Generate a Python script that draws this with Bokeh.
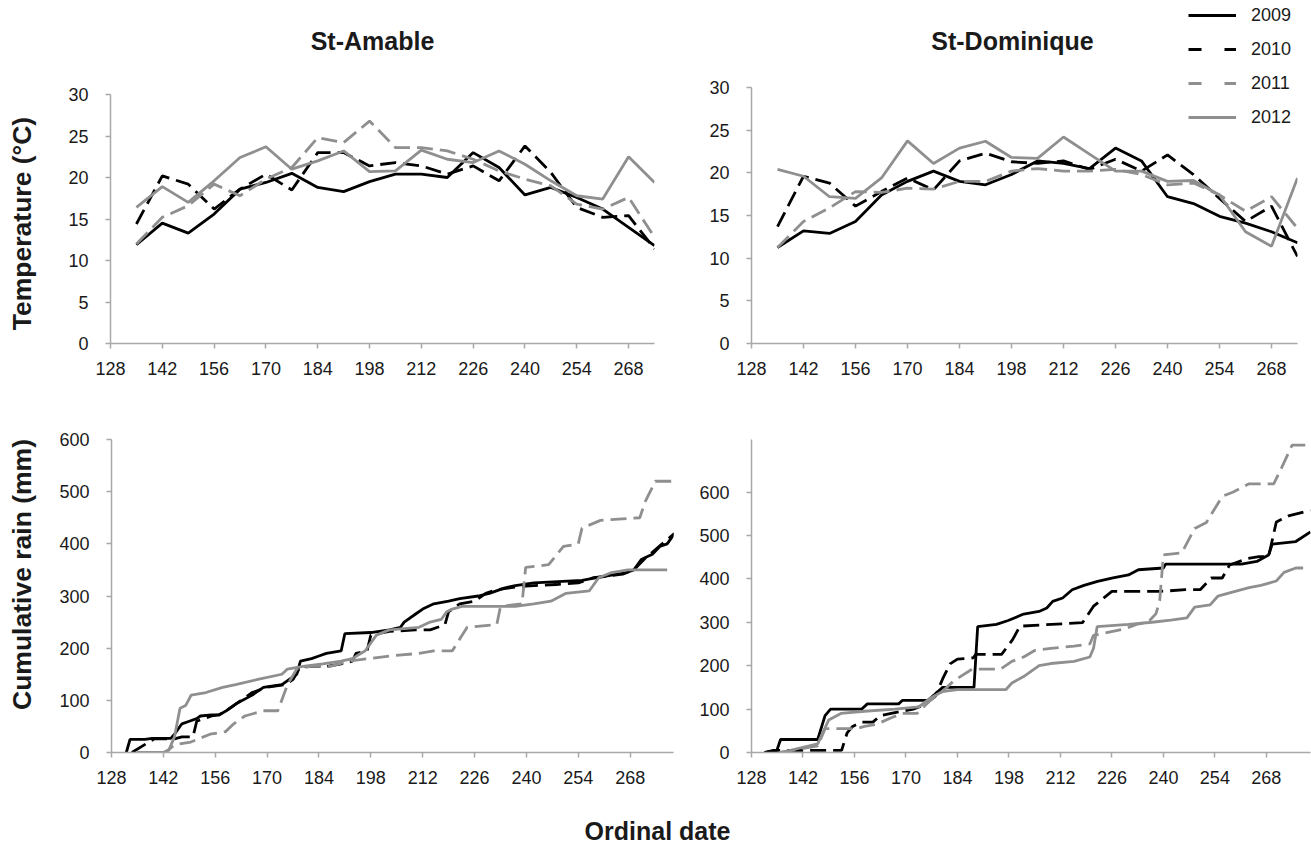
from math import pi
from bokeh.plotting import figure
from bokeh.models import Label, Legend, LegendItem, FixedTicker, Range1d
from bokeh.layouts import column, row
from bokeh.embed import file_html
from bokeh.resources import INLINE

FONT = "Liberation Sans"
BLACK = "#000000"
GRAY = "#8f8f8f"
AXIS = "#a8a8a8"
TEXT = "#1a1a1a"

years = ["2009", "2010", "2011", "2012"]
x_ticks = [128, 142, 156, 170, 184, 198, 212, 226, 240, 254, 268]
temp_ticks = [0, 5, 10, 15, 20, 25, 30]
rain_ticks = [0, 100, 200, 300, 400, 500, 600]

# weekly mean temperature (ordinal date)
week_days = [135, 142, 149, 156, 163, 170, 177, 184, 191, 198, 205,
             212, 219, 226, 233, 240, 247, 254, 261, 268, 275]

# St-Amable temperature
t09_a = [11.9, 14.5, 13.3, 15.6, 18.6, 19.4, 20.5, 18.8, 18.3, 19.5, 20.4, 20.4, 20.0, 23.0, 21.2, 17.9, 18.8, 17.6, 16.2, 14.0, 11.8]
t10_a = [14.4, 20.2, 19.2, 16.2, 18.6, 20.4, 18.5, 23.0, 23.0, 21.4, 21.8, 21.4, 20.4, 21.4, 19.6, 23.8, 20.6, 16.4, 15.2, 15.4, 11.4]
t11_a = [12.0, 15.2, 16.6, 19.2, 17.8, 19.8, 21.2, 24.8, 24.2, 26.8, 23.6, 23.6, 23.2, 22.2, 20.8, 19.8, 19.0, 16.8, 16.2, 17.6, 12.8]
t12_a = [16.4, 18.9, 17.0, 19.6, 22.4, 23.7, 21.0, 22.0, 23.2, 20.7, 20.8, 23.3, 22.2, 21.8, 23.2, 21.6, 19.6, 17.8, 17.4, 22.5, 19.4]

# St-Dominique temperature
t09_d = [11.25, 13.2, 12.9, 14.3, 17.4, 19.0, 20.2, 19.0, 18.6, 19.8, 21.4, 21.1, 20.5, 22.9, 21.4, 17.2, 16.4, 14.9, 14.1, 13.1, 11.8]
t10_d = [13.7, 19.6, 18.8, 16.1, 17.8, 19.4, 18.0, 21.4, 22.3, 21.3, 21.1, 21.4, 20.4, 21.6, 20.2, 22.1, 19.8, 17.0, 14.3, 16.1, 10.2]
t11_d = [11.25, 14.3, 15.9, 17.8, 17.7, 18.2, 18.1, 19.0, 19.0, 20.2, 20.5, 20.2, 20.2, 20.4, 19.8, 18.6, 18.8, 17.4, 15.5, 17.2, 13.5]
t12_d = [20.4, 19.6, 17.2, 17.0, 19.4, 23.75, 21.1, 22.9, 23.7, 21.8, 21.7, 24.2, 22.2, 20.2, 20.2, 19.0, 19.1, 17.4, 13.1, 11.4, 19.4]

# St-Amable cumulative rain (day, mm)
r09_a_day = [132, 133, 137, 139, 144, 145, 146, 147, 149, 151, 152, 155, 157, 159, 162, 166, 169, 174, 176, 178, 179, 182, 184, 186, 190, 191, 198, 203, 206, 207, 210, 212, 215, 219, 222, 227, 230, 234, 237, 242, 255, 259, 267, 269, 271, 274, 276, 278, 280]
r09_a_mm = [0, 25, 25, 27, 27, 35, 45, 55, 60, 65, 70, 72, 72, 80, 95, 110, 125, 130, 140, 150, 175, 180, 185, 190, 195, 228, 230, 235, 240, 250, 265, 275, 285, 290, 295, 300, 305, 315, 320, 325, 330, 335, 345, 350, 370, 380, 395, 400, 420]
r10_a_day = [133.5, 139.5, 145, 147, 150, 151, 153, 155, 157, 160, 163, 166, 170, 175, 177, 179, 182, 186, 190, 193, 194, 197, 198, 203, 210, 214, 218, 219, 222, 226, 229, 232, 238, 242, 248, 254, 258, 262, 266, 269, 272, 276, 280]
r10_a_mm = [0, 26, 26, 30, 30, 60, 65, 70, 72, 85, 100, 115, 125, 130, 140, 165, 165, 165, 170, 175, 190, 195, 225, 232, 235, 235, 245, 270, 285, 290, 305, 312, 318, 320, 322, 325, 335, 338, 342, 350, 372, 396, 420]
r11_a_day = [134.8, 142.6, 145, 149.4, 154.6, 158.8, 161, 164, 169, 172.9, 175.5, 178, 181.8, 187, 192, 197.5, 203, 211, 215, 220, 224, 232, 233, 238.8, 239.8, 246, 250, 254, 255, 260, 270.6, 272, 274.8, 279.7]
r11_a_mm = [0, 0, 15, 20, 35, 40, 55, 70, 80, 80, 130, 160, 165, 165, 175, 180, 185, 190, 195, 195, 240, 245, 280, 285, 355, 360, 395, 400, 430, 445, 450, 480, 520, 520]
r12_a_day = [135, 142, 143.5, 145, 146.5, 148, 149.5, 153.5, 158, 161.5, 167.5, 174, 175.5, 179.7, 185, 190, 193, 196.5, 199.5, 203, 211, 214, 217, 218.5, 220, 222.6, 237, 242, 246.6, 250.6, 257, 259.5, 263, 267.4, 278]
r12_a_mm = [0, 0, 5, 30, 85, 90, 110, 115, 125, 130, 140, 150, 160, 165, 170, 175, 180, 195, 225, 235, 240, 250, 255, 270, 275, 280, 280, 285, 290, 305, 310, 335, 345, 350, 350]

# St-Dominique cumulative rain (day, mm)
r09_d_day = [131.7, 134.9, 135.9, 146, 148, 149.5, 158, 159.5, 168, 169, 176, 178, 180, 188.5, 189.5, 194.6, 197.8, 202, 206.2, 208.3, 209.9, 212.6, 215.2, 218.4, 222.1, 226.3, 230.5, 233.2, 240, 240.6, 261.2, 265.4, 268.6, 269.6, 276, 280]
r09_d_mm = [0, 5, 30, 30, 85, 100, 100, 112, 112, 120, 120, 135, 150, 150, 290, 295, 304, 319, 325, 333, 348, 356, 375, 385, 394, 402, 409, 421, 425, 434, 434, 440, 455, 480, 486, 508]
r10_d_day = [131.5, 134, 152.5, 154, 155.5, 158, 161, 163, 166, 172, 175, 178, 180, 182, 184, 188.3, 189, 196, 199, 201, 218, 221, 226, 239, 246, 250, 253, 256, 258, 263, 266, 268.6, 270.7, 274, 280]
r10_d_mm = [0, 5, 5, 45, 60, 70, 70, 85, 90, 100, 110, 130, 170, 204, 215, 218, 226, 226, 260, 291, 299, 337, 371, 371, 375, 375, 402, 402, 432, 447, 451, 451, 531, 545, 558]
r11_d_day = [135.6, 146, 148, 156.5, 158.7, 162, 166, 169, 173, 176.6, 179.8, 183, 188, 195.7, 198.8, 202, 205, 209.4, 215.7, 220, 221, 224, 229.5, 232.7, 235.8, 238, 239, 240, 245, 248.5, 251.7, 256, 259, 263.3, 270, 271.8, 275, 280]
r11_d_mm = [0, 15, 55, 55, 60, 65, 80, 90, 90, 120, 140, 165, 192, 192, 210, 220, 235, 240, 245, 250, 270, 275, 285, 295, 300, 320, 350, 455, 460, 516, 530, 590, 600, 619, 619, 650, 708, 708]
r12_d_day = [136, 146, 149, 152.3, 158.7, 167, 173.5, 175, 176.6, 179.8, 184, 197.2, 198.8, 202, 206.2, 209.4, 215.7, 220, 221, 222, 230.5, 236.9, 242, 246.4, 248.5, 252.7, 254.8, 259, 263.3, 266.5, 270.7, 272.8, 276, 278]
r12_d_mm = [0, 20, 75, 90, 95, 100, 105, 115, 125, 140, 145, 145, 160, 175, 200, 205, 210, 220, 240, 290, 295, 300, 305, 310, 335, 340, 360, 370, 380, 385, 395, 415, 425, 425]

styles = {
    "2009": dict(line_color=BLACK, line_dash="solid"),
    "2010": dict(line_color=BLACK, line_dash="16 7"),
    "2011": dict(line_color=GRAY, line_dash="16 7"),
    "2012": dict(line_color=GRAY, line_dash="solid"),
}
LW = 2.8


def make_fig(width, height, left, right, top, bottom, xr, yr, yticks, ybounds):
    p = figure(width=width, height=height,
               x_range=Range1d(*xr), y_range=Range1d(*yr),
               output_backend="svg", toolbar_location=None,
               min_border_left=left, min_border_right=right,
               min_border_top=top, min_border_bottom=bottom)
    p.outline_line_color = None
    p.grid.visible = False
    p.xaxis.ticker = FixedTicker(ticks=x_ticks)
    p.yaxis.ticker = FixedTicker(ticks=yticks)
    p.yaxis.bounds = ybounds
    for ax in p.axis:
        ax.axis_line_color = AXIS
        ax.axis_line_width = 1.5
        ax.major_tick_line_color = AXIS
        ax.major_tick_line_width = 1.5
        ax.major_tick_out = 5
        ax.major_tick_in = 0
        ax.minor_tick_line_color = None
        ax.major_label_text_font = FONT
        ax.major_label_text_font_size = "18px"
        ax.major_label_text_color = TEXT
    p.xaxis.major_label_standoff = 13
    p.yaxis.major_label_standoff = 17
    return p


def text_fig(width, height):
    f = figure(width=width, height=height, x_range=Range1d(0, 1), y_range=Range1d(0, 1),
               output_backend="svg", toolbar_location=None,
               x_axis_type=None, y_axis_type=None,
               min_border_left=0, min_border_right=0, min_border_top=0, min_border_bottom=0)
    f.outline_line_color = None
    f.grid.visible = False
    return f


def draw(p, xs, series):
    for yr, ys in zip(years, series):
        x = xs[yr] if isinstance(xs, dict) else xs
        p.line(x, ys, line_width=LW, **styles[yr])


def text_label(p, x, y, txt, angle=0.0, baseline="alphabetic", size="25px"):
    p.add_layout(Label(x=x, y=y, x_units="screen", y_units="screen", text=txt,
                       angle=angle, text_align="center", text_baseline=baseline,
                       text_font=FONT, text_font_style="bold",
                       text_font_size=size, text_color=TEXT))


# left strips carrying the rotated y titles (their frames line up with the panels' frames)
lab_top = text_fig(45, 400)
text_label(lab_top, 21, 120, "Temperature (°C)", angle=pi / 2, baseline="middle", size="26.5px")
lab_bot = text_fig(45, 400)
text_label(lab_bot, 21, 178, "Cumulative rain (mm)", angle=pi / 2, baseline="middle", size="26.5px")

# top-left: St-Amable temperature (frame reaches the top edge; axis bounded to 0-30)
tl = make_fig(645, 400, 65, 36, 0, 57, (128, 275), (0, 30 * 343 / 249), temp_ticks, (0, 30))
draw(tl, week_days, [t09_a, t10_a, t11_a, t12_a])
text_label(tl, 262, 303, "St-Amable")

# top-right: St-Dominique temperature
tr = make_fig(621, 400, 61, 14, 0, 57, (128, 275), (0, 30 * 343 / 256), temp_ticks, (0, 30))
draw(tr, week_days, [t09_d, t10_d, t11_d, t12_d])
text_label(tr, 261, 303, "St-Dominique")

nan = float("nan")
items = []
for yr in years:
    st = dict(styles[yr])
    if st["line_dash"] != "solid":
        st["line_dash"] = "13 23"
    r = tr.line(x=[nan, nan], y=[nan, nan], line_width=3, **st)
    items.append(LegendItem(label=yr, renderers=[r]))
legend = Legend(items=items, location=(437, 211), orientation="vertical",
                border_line_color=None, background_fill_alpha=0,
                padding=0, margin=0, spacing=4,
                glyph_width=48, glyph_height=30, label_height=30,
                label_standoff=15, label_text_font=FONT,
                label_text_font_size="18px", label_text_color=TEXT)
tr.add_layout(legend)

# bottom-left: St-Amable rain
bl = make_fig(645, 400, 66, 17, 39, 48, (128, 279.7), (0, 600), rain_ticks, (0, 600))
draw(bl, {"2009": r09_a_day, "2010": r10_a_day, "2011": r11_a_day, "2012": r12_a_day},
     [r09_a_mm, r10_a_mm, r11_a_mm, r12_a_mm])

# bottom-right: St-Dominique rain
br = make_fig(621, 400, 61, 1, 36, 48, (128, 280), (0, 721), rain_ticks, (0, 721))
draw(br, {"2009": r09_d_day, "2010": r10_d_day, "2011": r11_d_day, "2012": r12_d_day},
     [r09_d_mm, r10_d_mm, r11_d_mm, r12_d_mm])

# shared x-axis title
xl = text_fig(1311, 58)
text_label(xl, 657, 28, "Ordinal date")

layout = column(row(lab_top, tl, tr), row(lab_bot, bl, br), xl)
open("out.html", "w").write(file_html(layout, INLINE))
